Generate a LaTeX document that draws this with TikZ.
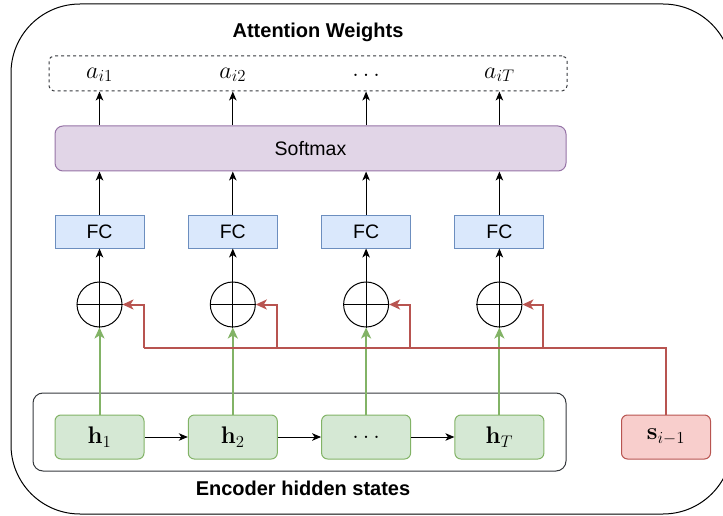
\RequirePackage{fix-cm}
\documentclass[tikz,border=0pt]{standalone}
\usepackage[no-math]{fontspec}
\newfontfamily\labelfont{Liberation Sans}
\usetikzlibrary{arrows.meta}

\definecolor{fcfill}{HTML}{DAE8FC}
\definecolor{fcline}{HTML}{6C8EBF}
\definecolor{smfill}{HTML}{E1D5E7}
\definecolor{smline}{HTML}{9673A6}
\definecolor{hfill}{HTML}{D5E8D4}
\definecolor{hline}{HTML}{82B366}
\definecolor{sfill}{HTML}{F8CECC}
\definecolor{sline}{HTML}{B85450}
\definecolor{frame}{HTML}{36393D}

\tikzset{
  txt/.style={font=\labelfont\fontsize{19.5}{23}\selectfont},
  title/.style={font=\labelfont\bfseries\fontsize{20}{24}\selectfont},
  mathlbl/.style={font=\fontsize{24}{28}\selectfont, inner sep=0pt},
  fcbox/.style={draw=fcline, fill=fcfill, line width=1pt, minimum width=89pt,
    minimum height=33pt, inner sep=0pt, txt},
  hbox/.style={draw=hline, fill=hfill, line width=1pt, rounded corners=6pt,
    minimum width=89pt, minimum height=44pt, inner sep=0pt,
    font=\fontsize{24}{28}\selectfont},
  sumnode/.style={circle, draw, line width=1pt, minimum size=45pt, inner sep=0pt},
  arr/.style={line width=1pt, -{Stealth[length=9pt,width=7.5pt,inset=2.5pt]}},
  redline/.style={draw=sline, line width=2pt},
  redarr/.style={redline, -{Stealth[length=11pt,width=10pt,inset=3pt]}},
  greenarr/.style={draw=hline, line width=2pt, -{Stealth[length=11pt,width=10pt,inset=3pt]}},
}

\begin{document}
\begin{tikzpicture}[x=1pt, y=-1pt]
\useasboundingbox (0,0) rectangle (723,516);
\clip (0,0) rectangle (723,516);

% outer frame
\draw[line width=1pt, rounded corners=69pt] (11,4) rectangle (732,514);

% titles
\node[title] (ttop) at (318,32) {Attention Weights};
\node[title] (tbot) at (303,488) {Encoder hidden states};

% attention weights row
\node[draw=frame, dashed, dash pattern=on 3pt off 3pt, line width=1pt,
      rounded corners=5pt, minimum width=518pt, minimum height=35pt]
      (weights) at (308,73.5) {};
\node[mathlbl] (a1) at (99.5,75) {$a_{i1}$};
\node[mathlbl] (a2) at (232.8,75) {$a_{i2}$};
\node[mathlbl] (a3) at (366.1,75) {$\dots$};
\node[mathlbl] (a4) at (499.4,75) {$a_{iT}$};

% softmax
\node[draw=smline, fill=smfill, line width=1pt, rounded corners=8pt,
      minimum width=511pt, minimum height=45pt, inner sep=0pt, txt]
      (soft) at (310.5,148.5) {Softmax};

% encoder group
\node[draw=frame, line width=1pt, rounded corners=10pt,
      minimum width=533pt, minimum height=78pt] (enc) at (299.5,432) {};

% decoder state
\node[hbox, draw=sline, fill=sfill] (s) at (666,437) {$\mathbf{s}_{i-1}$};

% columns
\foreach \k/\x/\lab in {1/99.5/{$\mathbf{h}_1$}, 2/232.8/{$\mathbf{h}_2$},
                        3/366.1/{$\dots$}, 4/499.4/{$\mathbf{h}_T$}} {
  \node[fcbox] (fc\k) at (\x,231.5) {FC};
  \node[sumnode] (o\k) at (\x,304.5) {};
  \draw[line width=1pt] (o\k.west) -- (o\k.east) (o\k.north) -- (o\k.south);
  \node[hbox] (h\k) at (\x,437) {\lab};
  \coordinate (b\k) at (\x+44,348);
  \draw[arr] (o\k.north) -- (fc\k.south);
  \draw[arr] (fc\k.north) -- (soft.south -| fc\k.north);
  \draw[arr] (soft.north -| a\k) -- (weights.south -| a\k);
  \draw[greenarr] (h\k.north) -- (o\k.south);
  \draw[redarr] (b\k) |- (o\k.east);
}

% decoder state feeding every sum
\draw[redline] (s.north) |- (b1);

% chain of encoder states
\draw[arr] (h1) -- (h2);
\draw[arr] (h2) -- (h3);
\draw[arr] (h3) -- (h4);
\end{tikzpicture}
\end{document}
